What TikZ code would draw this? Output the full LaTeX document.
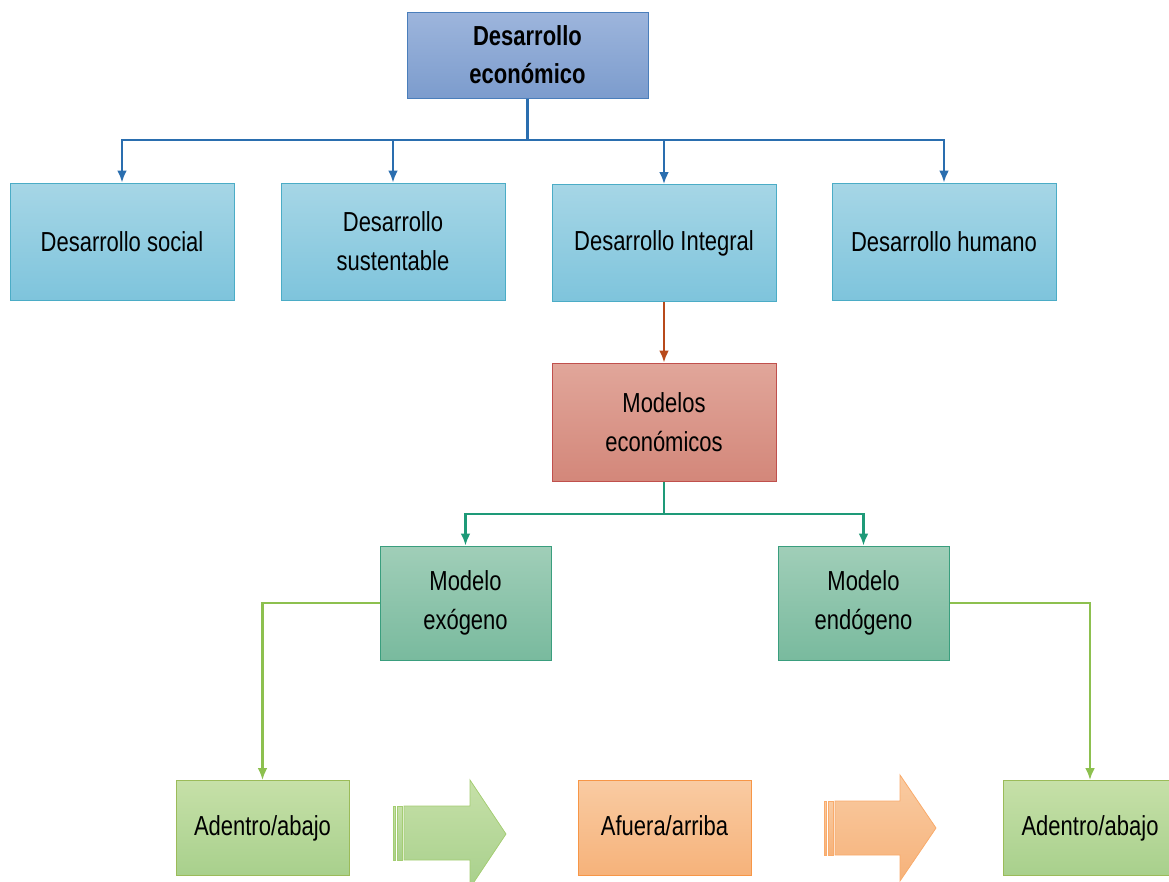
\documentclass[tikz,border=0pt]{standalone}
\usepackage{fontspec}
\setmainfont{Liberation Sans}[FakeStretch=0.8]
\usepackage{tikz}
\usetikzlibrary{arrows.meta}
\definecolor{topblue}{HTML}{9DB5DC}
\definecolor{topbluedark}{HTML}{7C9CCD}
\definecolor{topline}{HTML}{4A7EBB}
\definecolor{lightblue}{HTML}{A6D6E6}
\definecolor{lightbluedark}{HTML}{7EC4DC}
\definecolor{blueline}{HTML}{4BACC6}
\definecolor{connblue}{HTML}{2A6EAF}
\definecolor{redtop}{HTML}{E1A69A}
\definecolor{redbottom}{HTML}{D3877A}
\definecolor{redline}{HTML}{C0504D}
\definecolor{connred}{HTML}{B84A1B}
\definecolor{tealtop}{HTML}{A0CEB8}
\definecolor{tealbottom}{HTML}{79BA9E}
\definecolor{tealline}{HTML}{3A9E7E}
\definecolor{connteal}{HTML}{1E9A78}
\definecolor{greentop}{HTML}{C6E0A8}
\definecolor{greenbottom}{HTML}{A8D08C}
\definecolor{greenline}{HTML}{9BBB59}
\definecolor{conngreen}{HTML}{8DC04F}
\definecolor{orangetop}{HTML}{F9CBA2}
\definecolor{orangebottom}{HTML}{F6B27A}
\definecolor{orangeline}{HTML}{F79646}

\begin{document}
\begin{tikzpicture}[x=1pt, y=-1pt,
        box/.style={draw, line width=1pt, align=center, inner sep=0pt,
            font=\fontsize{27.5}{39}\selectfont, text=black},
        topbox/.style={box, draw=topline, top color=topblue, bottom color=topbluedark,
            minimum width=241pt, minimum height=86pt, font=\fontsize{27.5}{38}\selectfont\bfseries},
        devbox/.style={box, draw=blueline, top color=lightblue, bottom color=lightbluedark,
            minimum width=224pt, minimum height=117pt},
        modelsbox/.style={box, draw=redline, top color=redtop, bottom color=redbottom,
            minimum width=224pt, minimum height=118pt},
        modelbox/.style={box, draw=tealline, top color=tealtop, bottom color=tealbottom,
            minimum width=171pt, minimum height=114pt},
        dirbox/.style={box, draw=greenline, top color=greentop, bottom color=greenbottom,
            minimum width=173pt, minimum height=95pt},
        outbox/.style={box, draw=orangeline, top color=orangetop, bottom color=orangebottom,
            minimum width=173pt, minimum height=95pt},
        conn/.style={-{Latex[length=12pt, width=10pt]}, line width=2.9pt}]
    \useasboundingbox (0, 0) rectangle (1169, 881);

    % top level
    \node[topbox] (eco) at (527.5, 55) {Desarrollo\\económico};

    \node[devbox] (social) at (122, 241.5) {Desarrollo social};
    \node[devbox] (sust) at (393, 241.5) {Desarrollo\\sustentable};
    \node[devbox] (integral) at (664, 243) {Desarrollo Integral};
    \node[devbox] (humano) at (944, 241.5) {Desarrollo humano};

    \coordinate (split) at (527.5, 140);
    \draw[connblue, line width=2.9pt] (eco.south) -- (split);
    \foreach \dst in {social, sust, integral, humano}
        \draw[conn, connblue] (split) -| (\dst.north);

    % models
    \node[modelsbox] (modelos) at (664, 422) {Modelos\\económicos};
    \draw[conn, connred] (integral) -- (modelos);

    \node[modelbox] (exo) at (465.5, 603) {Modelo\\exógeno};
    \node[modelbox] (endo) at (863.5, 603) {Modelo\\endógeno};

    \coordinate (split2) at (664, 514);
    \draw[connteal, line width=2.9pt] (modelos.south) -- (split2);
    \draw[conn, connteal] (split2) -| (exo.north);
    \draw[conn, connteal] (split2) -| (endo.north);

    % bottom row
    \node[dirbox] (adentro1) at (262.5, 828) {\strut Adentro/abajo};
    \node[outbox] (afuera) at (664.5, 828) {\strut Afuera/arriba};
    \node[dirbox] (adentro2) at (1090, 828) {\strut Adentro/abajo};

    \draw[conn, conngreen] (exo.west) -| (adentro1.north);
    \draw[conn, conngreen] (endo.east) -| (adentro2.north);

    % block arrows
    \shade[top color=greentop, bottom color=greenbottom, draw=conngreen!80, line width=0.8pt]
        (404, 806) -- (470, 806) -- (470, 780) -- (506, 834) -- (470, 888)
        -- (470, 860) -- (404, 860) -- cycle;
    \shade[top color=greentop, bottom color=greenbottom, draw=conngreen!80, line width=0.8pt]
        (397, 806) rectangle (402, 860);
    \shade[top color=greentop, bottom color=greenbottom, draw=conngreen!80, line width=0.8pt]
        (393, 806) rectangle (395.5, 860);

    \shade[top color=orangetop, bottom color=orangebottom, draw=orangeline!80, line width=0.8pt]
        (835, 801) -- (900, 801) -- (900, 775) -- (936, 828) -- (900, 881)
        -- (900, 855) -- (835, 855) -- cycle;
    \shade[top color=orangetop, bottom color=orangebottom, draw=orangeline!80, line width=0.8pt]
        (828, 801) rectangle (833, 855);
    \shade[top color=orangetop, bottom color=orangebottom, draw=orangeline!80, line width=0.8pt]
        (824, 801) rectangle (826.5, 855);
\end{tikzpicture}
\end{document}
